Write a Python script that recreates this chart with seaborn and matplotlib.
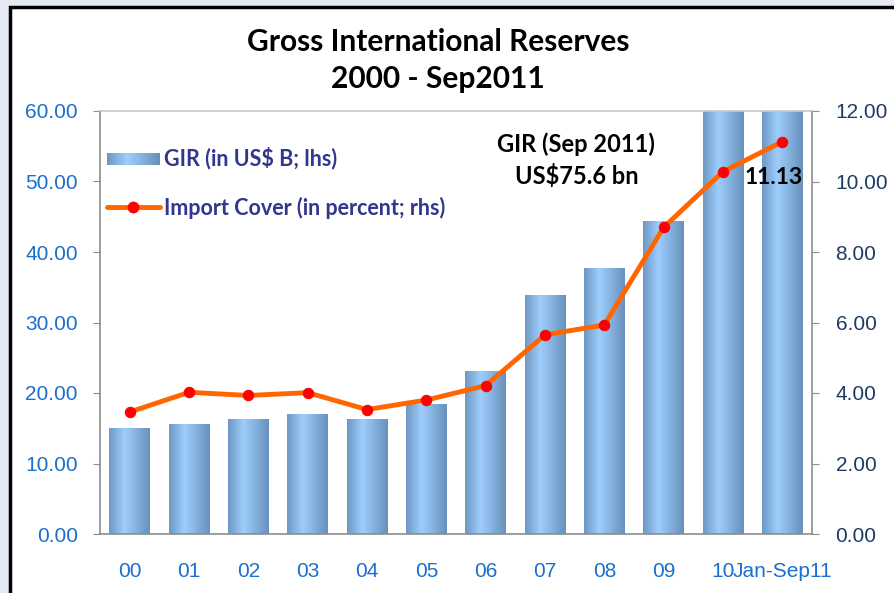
import numpy as np
import matplotlib
matplotlib.use("Agg")
import matplotlib.pyplot as plt
import seaborn as sns
from matplotlib.colors import LinearSegmentedColormap
from matplotlib.patches import Rectangle
from matplotlib.lines import Line2D
from matplotlib.legend_handler import HandlerBase

# data
years = ["00", "01", "02", "03", "04", "05", "06", "07", "08", "09", "10", "Jan-Sep11"]
gir = [15.0, 15.6, 16.3, 17.0, 16.2, 18.4, 23.0, 33.8, 37.7, 44.3, 62.4, 75.6]
import_cover = [3.46, 4.02, 3.93, 4.01, 3.53, 3.80, 4.21, 5.65, 5.93, 8.70, 10.28, 11.13]

sns.set_style("white")
plt.rcParams['font.family'] = ['Liberation Sans', 'DejaVu Sans']

bar_cmap = LinearSegmentedColormap.from_list(
    "gir", [(0, "#6e97c3"), (0.38, "#9ecefd"), (1, "#6890bb")])

left_col = "#1b6fce"
right_col = "#1f3b63"
legend_col = "#32368f"
spine_col = "#8c8c8c"


class GradientHandler(HandlerBase):
    def create_artists(self, legend, orig_handle, xdescent, ydescent,
                       width, height, fontsize, trans):
        n = 30
        arts = []
        for i in range(n):
            r = Rectangle((-xdescent + width * i / n, -ydescent + height * 0.05),
                          width / n + 0.3, height * 0.8,
                          facecolor=bar_cmap(i / (n - 1)), edgecolor="none",
                          transform=trans)
            arts.append(r)
        return arts


fig = plt.figure(figsize=(8.94, 5.93), dpi=100)
fig.patch.set_facecolor("#e5e9f4")
fig.patches.append(Rectangle((9.5 / 894, -0.1), 1.2, 0.1 + 586 / 593,
                             transform=fig.transFigure, facecolor="white",
                             edgecolor="black", linewidth=2.5, zorder=-1))

ax = fig.add_axes([100 / 894, 59 / 593, 712 / 894, 423 / 593])
ax.set_facecolor("none")
x = np.arange(len(years))
sns.barplot(x=x, y=gir, ax=ax, width=0.69, color="#84aedb", saturation=1)

# horizontal gradient inside each bar
grad = np.linspace(0, 1, 256).reshape(1, -1)
for p in list(ax.patches):
    bx, bw, bh = p.get_x(), p.get_width(), p.get_height()
    ax.imshow(grad, cmap=bar_cmap, aspect="auto", extent=[bx, bx + bw, 0, bh],
              zorder=2, interpolation="bilinear")
    p.set_visible(False)

ax.set_xlim(-0.5, len(years) - 0.5)
ax.set_ylim(0, 60)
ax.set_yticks(np.arange(0, 61, 10))
ax.set_yticklabels([f"{v:.2f}" for v in np.arange(0, 61, 10)])
ax.set_xticks(x)
ax.set_xticklabels(years)
ax.set_xticks(np.arange(-0.5, len(years), 1), minor=True)
ax.tick_params(axis="x", which="major", length=0, pad=20, labelsize=15, labelcolor=left_col)
ax.tick_params(axis="x", which="minor", length=6, color=spine_col, direction="out")
ax.tick_params(axis="y", length=5, color=spine_col, labelsize=15, labelcolor=left_col, pad=11)
for s in ax.spines.values():
    s.set_color(spine_col)
    s.set_linewidth(1.2)
ax.spines["top"].set_color("#c8c8c8")
ax.set_xlabel("")

ax2 = ax.twinx()
sns.lineplot(x=x, y=import_cover, ax=ax2, color="#ff6600", linewidth=3.5,
             marker="o", markersize=7.5, markerfacecolor="#ff0000",
             markeredgecolor="#ff0000", zorder=5)
ax2.set_ylim(0, 12)
ax2.set_yticks(np.arange(0, 13, 2))
ax2.set_yticklabels([f"{v:.2f}" for v in np.arange(0, 13, 2)])
ax2.tick_params(axis="y", length=5, color=spine_col, labelsize=15, labelcolor=right_col, pad=12)
for s in ax2.spines.values():
    s.set_visible(False)
ax2.set_ylabel("")

ax2.annotate(f"{import_cover[-1]:.2f}", xy=(x[-1], import_cover[-1]),
             xytext=(-6.5, -26), textcoords="offset points", ha="center", va="center",
             fontsize=16.5, fontweight="bold", family="Lato", color="black")
ax2.text(0.669, 0.883, "GIR (Sep 2011)\nUS$75.6 bn", transform=ax2.transAxes,
         ha="center", va="center", fontsize=17, fontweight="bold", family="Lato",
         color="black", linespacing=1.42)

handles = [Rectangle((0, 0), 1, 1),
           Line2D([], [], color="#ff6600", linewidth=3.5, marker="o", markersize=7.5,
                  markerfacecolor="#ff0000", markeredgecolor="#ff0000")]
leg = ax2.legend(handles, ["GIR (in US$ B; lhs)", "Import Cover (in percent; rhs)"],
                 loc="upper left", bbox_to_anchor=(0.0098, 0.915), frameon=False,
                 borderaxespad=0, borderpad=0,
                 handler_map={Rectangle: GradientHandler()},
                 handlelength=2.45, handletextpad=0.22, labelspacing=1.25,
                 prop={"family": "Lato", "weight": "bold", "size": 15.5})
for t in leg.get_texts():
    t.set_color(legend_col)

fig.text(0.49, 0.898, "Gross International Reserves\n2000 - Sep2011", ha="center",
         va="center", fontsize=21.5, fontweight="bold", family="Lato", color="black",
         linespacing=1.36)

fig.savefig("out.png", dpi=100, facecolor=fig.get_facecolor())
